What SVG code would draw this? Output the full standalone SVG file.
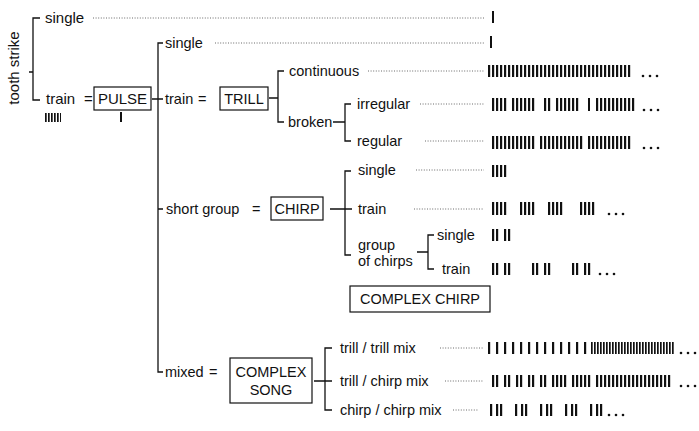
<svg xmlns="http://www.w3.org/2000/svg" width="699" height="431" viewBox="0 0 699 431">
<style>
text{font-family:"Liberation Sans",Arial,sans-serif;font-size:14.5px;fill:#111}
.big{font-size:15px}
.mid{text-anchor:middle}
.box{fill:#fff;stroke:#111;stroke-width:1.2}
.conn path{fill:none;stroke:#111;stroke-width:1.3}
.dot{fill:none;stroke:#444;stroke-width:0.8;stroke-dasharray:1 1.6}
.b4{fill:url(#p4)}
.b3{fill:url(#p3)}
.b8{fill:url(#p8)}
.s{fill:#111}
</style>
<defs>
<pattern id="p4" patternUnits="userSpaceOnUse" width="4" height="40"><rect x="0" y="0" width="2.2" height="40" fill="#111"/></pattern>
<pattern id="p3" patternUnits="userSpaceOnUse" width="3" height="40"><rect x="0" y="0" width="1.7" height="40" fill="#111"/></pattern>
<pattern id="p8" patternUnits="userSpaceOnUse" width="8" height="40"><rect x="0" y="0" width="2.2" height="40" fill="#111"/></pattern>
</defs>
<rect width="699" height="431" fill="#fff"/>

<text class="big mid" transform="translate(19,68) rotate(-90)">tooth strike</text>

<g class="conn" id="connectors">
<path d="M40 18H33V100H40M29 72H33"/>
<path d="M163 43H158V372H163M152 99H163M158 209H163"/>
<path d="M269 98H278M284 71H278V122H284"/>
<path d="M333 122H345M351 104H345V141H351"/>
<path d="M330 209H352M351 171H345V255H351"/>
<path d="M417 252H428M434 235H428V269H434"/>
<path d="M314 381H332M332 348H325V410H332"/>
</g>

<g id="dotted">
<path class="dot" d="M93 18H484M215 43H484M368 71H484M420 104H484M425 141H484M416 170H484M414 209H484M440 348H484M445 381H484M453 410H478"/>
</g>

<g id="ts-single"><text class="big" x="45" y="23">single</text><rect class="s" x="492" y="11" width="2" height="12"/></g>
<g id="ts-train"><text class="big" x="46" y="104">train</text><text class="big" x="84" y="104">=</text><rect class="b3" x="45" y="113" width="16" height="9"/></g>
<g id="pulse"><rect class="box" x="94" y="87" width="57" height="23"/><text class="big mid" x="122.5" y="104">PULSE</text><rect class="s" x="120" y="112" width="2" height="10"/></g>

<g id="p-single"><text x="165" y="48">single</text><rect class="s" x="490" y="36" width="2" height="12"/></g>
<g id="p-train"><text x="165" y="104">train</text><text x="198" y="104">=</text></g>
<g id="trill"><rect class="box" x="220" y="87" width="48" height="23"/><text class="mid" x="244" y="104">TRILL</text></g>
<g id="continuous"><text x="289" y="76">continuous</text><rect class="b4" x="488" y="65" width="144" height="12"/>
<circle class="s" cx="643" cy="76" r="1.3"/><circle class="s" cx="650" cy="76" r="1.3"/><circle class="s" cx="657" cy="76" r="1.3"/></g>
<g id="broken"><text x="288" y="127">broken</text></g>
<g id="irregular"><text x="357" y="109">irregular</text>
<rect class="b4" x="492" y="98" width="16" height="13"/><rect class="b4" x="512" y="98" width="24" height="13"/><rect class="b4" x="544" y="98" width="8" height="13"/><rect class="b4" x="556" y="98" width="24" height="13"/><rect class="s" x="588" y="98" width="2" height="13"/><rect class="b4" x="596" y="98" width="40" height="13"/>
<circle class="s" cx="644" cy="110" r="1.3"/><circle class="s" cx="651" cy="110" r="1.3"/><circle class="s" cx="658" cy="110" r="1.3"/></g>
<g id="regular"><text x="357" y="146">regular</text>
<rect class="b4" x="492" y="136" width="44" height="13"/><rect class="b4" x="540" y="136" width="44" height="13"/><rect class="b4" x="588" y="136" width="44" height="13"/>
<circle class="s" cx="644" cy="148" r="1.3"/><circle class="s" cx="651" cy="148" r="1.3"/><circle class="s" cx="658" cy="148" r="1.3"/></g>

<g id="short-group"><text x="166" y="214">short group</text><text x="252" y="214">=</text></g>
<g id="chirp"><rect class="box" x="271" y="197" width="52" height="23"/><text class="mid" x="297" y="214">CHIRP</text></g>
<g id="c-single"><text x="358" y="175">single</text><rect class="b4" x="492" y="165" width="16" height="12"/></g>
<g id="c-train"><text x="358" y="214">train</text>
<rect class="b4" x="492" y="202" width="16" height="13"/><rect class="b4" x="520" y="202" width="16" height="13"/><rect class="b4" x="548" y="202" width="16" height="13"/><rect class="b4" x="580" y="202" width="16" height="13"/>
<circle class="s" cx="609" cy="214" r="1.3"/><circle class="s" cx="616" cy="214" r="1.3"/><circle class="s" cx="623" cy="214" r="1.3"/></g>
<g id="c-group"><text x="358" y="250">group</text><text x="358" y="266">of chirps</text></g>
<g id="g-single"><text x="437" y="240">single</text><rect class="b4" x="492" y="229" width="8" height="12"/><rect class="b4" x="504" y="229" width="8" height="12"/></g>
<g id="g-train"><text x="442" y="274">train</text>
<rect class="b4" x="492" y="263" width="8" height="12"/><rect class="b4" x="504" y="263" width="8" height="12"/><rect class="b4" x="532" y="263" width="8" height="12"/><rect class="b4" x="544" y="263" width="8" height="12"/><rect class="b4" x="572" y="263" width="8" height="12"/><rect class="b4" x="584" y="263" width="8" height="12"/>
<circle class="s" cx="600" cy="274" r="1.3"/><circle class="s" cx="607" cy="274" r="1.3"/><circle class="s" cx="614" cy="274" r="1.3"/></g>
<g id="complex-chirp"><rect class="box" x="350" y="286" width="140" height="26"/><text class="mid" x="420" y="304">COMPLEX CHIRP</text></g>

<g id="mixed"><text x="165" y="377">mixed</text><text x="209" y="377">=</text></g>
<g id="complex-song"><rect class="box" x="230" y="358" width="82" height="45"/><text class="mid" x="271" y="377">COMPLEX</text><text class="mid" x="271" y="395">SONG</text></g>
<g id="tt-mix"><text x="340" y="353">trill / trill mix</text>
<rect class="b8" x="488" y="342" width="104" height="12"/><rect class="b3" x="591" y="342" width="84" height="12"/>
<circle class="s" cx="681" cy="353" r="1.3"/><circle class="s" cx="688" cy="353" r="1.3"/><circle class="s" cx="695" cy="353" r="1.3"/></g>
<g id="tc-mix"><text x="340" y="386">trill / chirp mix</text>
<rect class="b4" x="492" y="375" width="8" height="12"/><rect class="b4" x="504" y="375" width="8" height="12"/><rect class="b4" x="516" y="375" width="8" height="12"/><rect class="b4" x="528" y="375" width="8" height="12"/><rect class="b4" x="540" y="375" width="8" height="12"/><rect class="b4" x="552" y="375" width="16" height="12"/><rect class="b4" x="572" y="375" width="20" height="12"/><rect class="b4" x="596" y="375" width="76" height="12"/>
<circle class="s" cx="681" cy="386" r="1.3"/><circle class="s" cx="688" cy="386" r="1.3"/><circle class="s" cx="695" cy="386" r="1.3"/></g>
<g id="cc-mix"><text x="340" y="415">chirp / chirp mix</text>
<path class="s" d="M490 404h2.2v12h-2.2zM496 404h2.2v12h-2.2zM500 404h2.2v12h-2.2zM515 404h2.2v12h-2.2zM521 404h2.2v12h-2.2zM525 404h2.2v12h-2.2zM540 404h2.2v12h-2.2zM546 404h2.2v12h-2.2zM550 404h2.2v12h-2.2zM565 404h2.2v12h-2.2zM571 404h2.2v12h-2.2zM575 404h2.2v12h-2.2zM590 404h2.2v12h-2.2zM596 404h2.2v12h-2.2zM600 404h2.2v12h-2.2z"/>
<circle class="s" cx="609" cy="415" r="1.3"/><circle class="s" cx="616" cy="415" r="1.3"/><circle class="s" cx="623" cy="415" r="1.3"/></g>
</svg>
